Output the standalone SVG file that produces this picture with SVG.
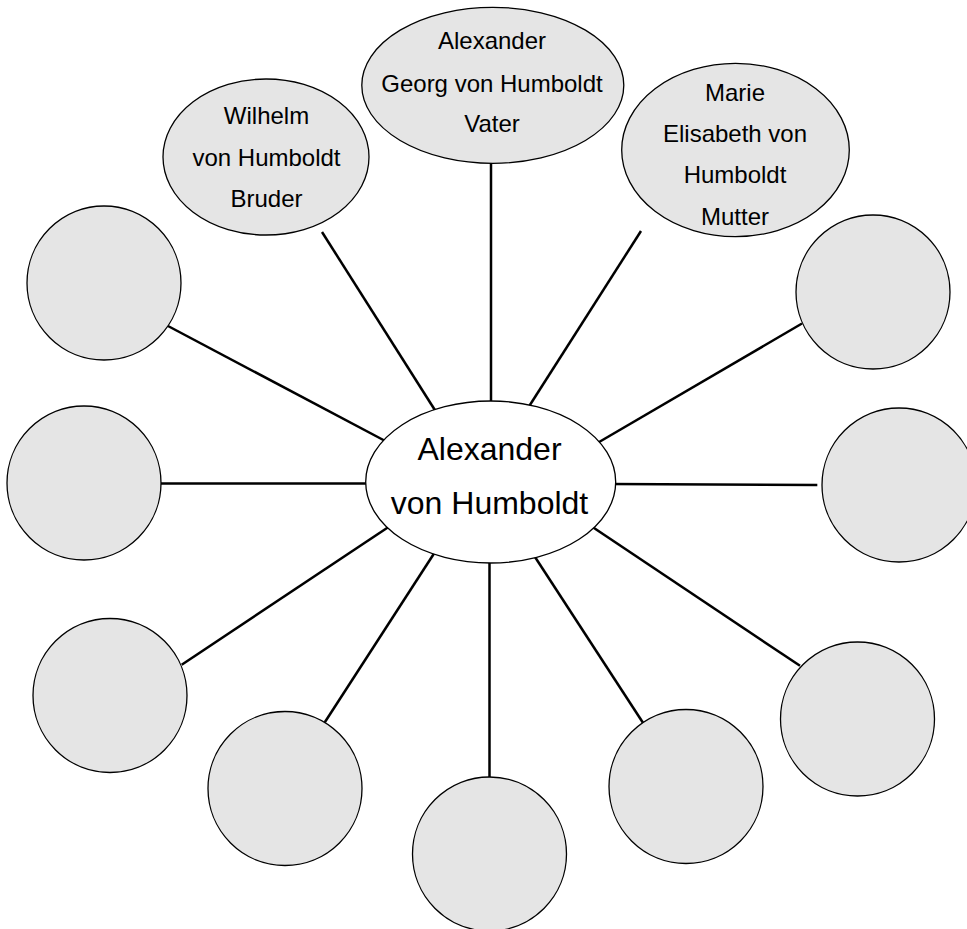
<svg xmlns="http://www.w3.org/2000/svg" width="967" height="929" viewBox="0 0 967 929">
<style>
.n{fill:#e5e5e5;stroke:#000;stroke-width:1.3}
.c{fill:#fff;stroke:#000;stroke-width:1.3}
.e line{stroke:#000;stroke-width:2.5;stroke-linecap:butt}
text{font-family:"Liberation Sans",Arial,Helvetica,sans-serif;fill:#000;text-anchor:middle}
.s{font-size:24px}
.b{font-size:32px}
</style>
<rect width="967" height="929" fill="#fff"/>
<g id="connectors" class="e">
<line x1="491" y1="163" x2="491" y2="410"/>
<line x1="322" y1="232" x2="435.5" y2="411"/>
<line x1="641" y1="231" x2="528" y2="408"/>
<line x1="168" y1="326" x2="390" y2="443.5"/>
<line x1="161" y1="483.5" x2="372" y2="483.5"/>
<line x1="181.7" y1="664.7" x2="390" y2="526"/>
<line x1="324.8" y1="722.3" x2="435" y2="552"/>
<line x1="489.5" y1="777" x2="489.5" y2="556"/>
<line x1="643.3" y1="723.3" x2="535" y2="557"/>
<line x1="800" y1="665.8" x2="591" y2="526"/>
<line x1="817.3" y1="485" x2="610" y2="484"/>
<line x1="802" y1="323.5" x2="594" y2="445"/>
</g>
<g id="center">
<ellipse class="c" cx="490.7" cy="482" rx="125" ry="81"/>
<text class="b" x="489.5" y="460">Alexander</text>
<text class="b" x="489.5" y="514">von Humboldt</text>
</g>
<g id="vater">
<ellipse class="n" cx="492.8" cy="85.3" rx="131" ry="78"/>
<text class="s" x="492" y="49.3">Alexander</text>
<text class="s" x="492" y="91.7">Georg von Humboldt</text>
<text class="s" x="492" y="131.7">Vater</text>
</g>
<g id="bruder">
<ellipse class="n" cx="266" cy="157" rx="103" ry="78"/>
<text class="s" x="266.5" y="124.3">Wilhelm</text>
<text class="s" x="266.5" y="166">von Humboldt</text>
<text class="s" x="266.5" y="206.7">Bruder</text>
</g>
<g id="mutter">
<ellipse class="n" cx="735.5" cy="150" rx="113.8" ry="86.7"/>
<text class="s" x="735" y="100.7">Marie</text>
<text class="s" x="735" y="141.7">Elisabeth von</text>
<text class="s" x="735" y="183.3">Humboldt</text>
<text class="s" x="735" y="225">Mutter</text>
</g>
<g id="n1"><circle class="n" cx="104" cy="283" r="77"/></g>
<g id="n2"><circle class="n" cx="84" cy="483" r="77"/></g>
<g id="n3"><circle class="n" cx="110" cy="695.5" r="77"/></g>
<g id="n4"><circle class="n" cx="285" cy="788.5" r="77"/></g>
<g id="n5"><circle class="n" cx="489.5" cy="854" r="77"/></g>
<g id="n6"><circle class="n" cx="686" cy="786.5" r="77"/></g>
<g id="n7"><circle class="n" cx="857.5" cy="719" r="77"/></g>
<g id="n8"><circle class="n" cx="899" cy="485" r="77"/></g>
<g id="n9"><circle class="n" cx="873" cy="292" r="77"/></g>
</svg>
